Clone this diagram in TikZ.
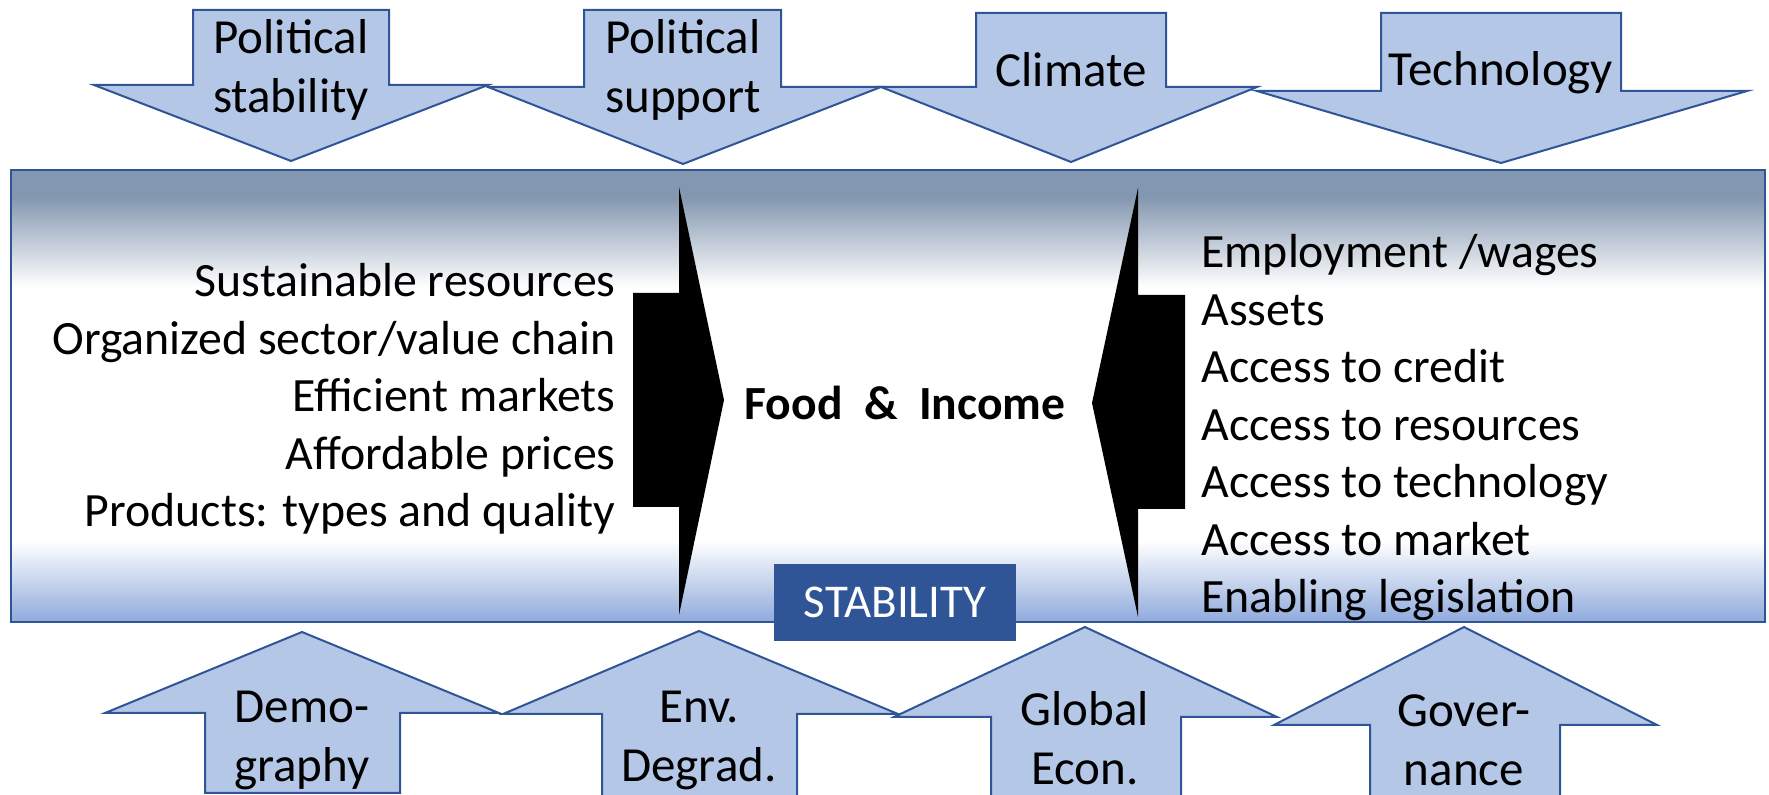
\documentclass[tikz,border=0pt]{standalone}
\usepackage{fontspec}
\setmainfont{Carlito}
\definecolor{arrowfill}{HTML}{B4C7E7}
\definecolor{arrowline}{HTML}{2F5597}
\definecolor{paneltop}{HTML}{8497B0}
\definecolor{panelbot}{HTML}{8FAADC}
\definecolor{stabfill}{HTML}{2F5597}
\pgfdeclareverticalshading{panelshade}{100bp}{color(0bp)=(panelbot); color(25bp)=(panelbot);
  color(34bp)=(white); color(62bp)=(white); color(72bp)=(paneltop); color(100bp)=(paneltop)}

\begin{document}
\begin{tikzpicture}[x=0.5pt,y=-0.5pt,
    factor/.style={fill=arrowfill,draw=arrowline,line width=1pt},
    factorlabel/.style={align=center,inner sep=0pt,font=\fontsize{24.5}{29.5}\selectfont},
    listtext/.style={inner sep=0pt,font=\fontsize{23.9}{28.75}\selectfont}]
  \useasboundingbox (0,0) rectangle (1769,795);

  % factors from above
  \draw[factor] (193,10) -- (389,10) -- (389,85) -- (488,85) -- (291,161) -- (94,85) -- (193,85) -- cycle;
  \draw[factor] (584,10) -- (781,10) -- (781,87) -- (881,87) -- (683,164) -- (488,87) -- (584,87) -- cycle;
  \draw[factor] (976,13) -- (1166,13) -- (1166,87) -- (1257,87) -- (1071,162) -- (881,87) -- (976,87) -- cycle;
  \draw[factor] (1381,13) -- (1621,13) -- (1621,91) -- (1747,91) -- (1501,163) -- (1257,91) -- (1381,91) -- cycle;
  \node[factorlabel] (polstab) at (291,70) {Political\\stability};
  \node[factorlabel] (polsup) at (683,70) {Political\\support};
  \node[factorlabel] (climate) at (1071,70) {Climate};
  \node[factorlabel] (tech) at (1501,73) {Technology};

  % factors from below
  \draw[factor] (302,632) -- (499,713) -- (400,713) -- (400,793) -- (205,793) -- (205,713) -- (105,713) -- cycle;
  \draw[factor] (699,631) -- (898,714) -- (797,714) -- (797,800) -- (602,800) -- (602,714) -- (503,714) -- cycle;
  \draw[factor] (1085,627) -- (1277,717) -- (1181,717) -- (1181,800) -- (991,800) -- (991,717) -- (894,717) -- cycle;
  \draw[factor] (1464,627) -- (1657,725) -- (1560,725) -- (1560,800) -- (1370,800) -- (1370,725) -- (1274,725) -- cycle;
  \node[factorlabel] (demo) at (302,740) {Demo-\\graphy};
  \node[factorlabel] (envdeg) at (699,740) {Env.\\Degrad.};
  \node[factorlabel] (globecon) at (1085,738) {Global\\Econ.};
  \node[factorlabel] (gov) at (1464,740) {Gover-\\nance};

  % central panel
  \draw[arrowline,line width=1pt,shade,shading=panelshade] (11,170) rectangle (1765,622);
  \fill (633,293) -- (679,293) -- (679,187) -- (724,400) -- (679,615) -- (679,507) -- (633,507) -- cycle;
  \fill (1185,295) -- (1138,295) -- (1138,188) -- (1092,403) -- (1138,617) -- (1138,509) -- (1185,509) -- cycle;

  \node[listtext,align=right,anchor=east] (supply) at (616,399)
    {Sustainable resources\\Organized sector/value chain\\Efficient markets\\Affordable prices\\Products: types and quality};
  \node[listtext,align=left,anchor=west] (access) at (1201,428)
    {Employment /wages\\Assets\\Access to credit\\Access to resources\\Access to technology\\Access to market\\Enabling legislation};
  \node[font=\bfseries\fontsize{23.8}{28}\selectfont] (food) at (905,403) {Food \ \& \ Income};

  \node[fill=stabfill,text=white,minimum width=121pt,minimum height=38.5pt,inner sep=0pt,
    font=\fontsize{23.5}{28}\selectfont] (stab) at (895,602.5) {STABILITY};
\end{tikzpicture}
\end{document}
